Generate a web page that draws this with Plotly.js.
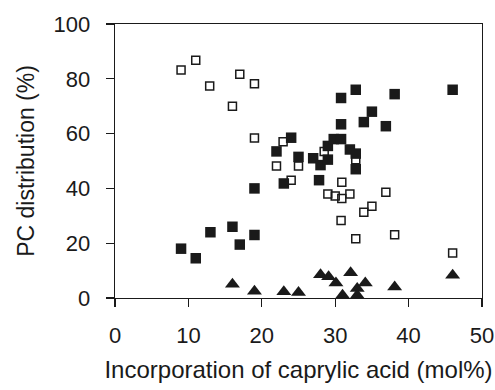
<!DOCTYPE html>
<html>
<head>
<meta charset="utf-8">
<script src="https://cdn.plot.ly/plotly-3.0.1.min.js"></script>
<style>html,body{margin:0;padding:0;background:#fff;}#chart{width:495px;height:390px;}</style>
</head>
<body>
<div id="chart"></div>
<script>
// Filled squares
const filledX = [9.0, 11.0, 13.0, 16.0, 17.0, 19.0, 19.0, 22.0, 23.0, 24.0, 25.0, 27.0, 28.0, 27.8, 29.0, 29.0, 29.8, 30.8, 30.8, 30.8, 32.0, 32.8, 32.8, 32.8, 33.9, 35.0, 36.9, 38.1, 46.0];
const filledY = [18.0, 14.5, 24.0, 26.0, 19.5, 23.0, 40.0, 53.5, 41.8, 58.5, 51.5, 51.0, 48.5, 43.0, 55.5, 50.5, 58.0, 58.0, 63.4, 73.0, 54.2, 76.0, 52.7, 47.0, 64.2, 68.0, 62.7, 74.4, 76.0];
// Open squares
const openX = [9.0, 11.0, 12.9, 16.0, 17.0, 19.0, 19.0, 22.9, 22.0, 24.0, 25.0, 28.5, 32.8, 30.9, 29.0, 30.0, 30.9, 32.0, 36.9, 35.0, 33.9, 30.8, 32.8, 38.1, 46.0];
const openY = [83.2, 86.8, 77.4, 70.0, 81.7, 78.2, 58.4, 57.0, 48.2, 43.0, 48.2, 53.5, 50.5, 42.2, 38.0, 37.2, 36.3, 38.0, 38.6, 33.5, 31.3, 28.3, 21.6, 23.1, 16.4];
// Triangles
const triX = [16.0, 19.0, 23.0, 25.0, 28.0, 29.1, 30.1, 31.0, 32.1, 33.0, 33.0, 34.1, 38.1, 46.0];
const triY = [5.0, 2.5, 2.3, 2.0, 8.5, 7.8, 5.5, 1.0, 9.2, 3.5, 1.0, 5.5, 4.0, 8.3];

const xTicks = [0, 10, 20, 30, 40, 50];
const yTicks = [0, 20, 40, 60, 80, 100];
const xTitle = 'Incorporation of caprylic acid (mol%)';
const yTitle = 'PC distribution (%)';

const traces = [
  {x: openX, y: openY, type: 'scatter', mode: 'markers',
   marker: {symbol: 'square-open', size: 8, color: '#1a1a1a', line: {width: 1.5, color: '#1a1a1a'}}},
  {x: filledX, y: filledY, type: 'scatter', mode: 'markers',
   marker: {symbol: 'square', size: 10.5, color: '#1a1a1a', line: {width: 0}}},
  {x: triX, y: triY, type: 'scatter', mode: 'markers',
   marker: {symbol: 'triangle-up', size: 13, color: '#1a1a1a', line: {width: 0}}}
];

const fam = '"Liberation Sans", Arial, sans-serif';
const ink = '#1a1a1a';
const layout = {
  width: 495, height: 390,
  margin: {l: 115, r: 13, t: 24, b: 92, pad: 0},
  paper_bgcolor: '#fff', plot_bgcolor: '#fff',
  showlegend: false,
  font: {family: fam, color: ink},
  xaxis: {
    range: [0, 50], tickvals: xTicks, ticktext: xTicks.map(String),
    showgrid: false, zeroline: false,
    showline: true, linecolor: ink, linewidth: 1.3, mirror: true,
    ticks: 'outside', ticklen: 8, tickwidth: 1.3, tickcolor: ink,
    tickfont: {size: 22, family: fam, color: ink},
    ticklabelstandoff: 9,
    title: {text: xTitle, font: {size: 24, family: fam, color: ink}, standoff: 14}
  },
  yaxis: {
    range: [0, 100], tickvals: yTicks, ticktext: yTicks.map(String),
    showgrid: false, zeroline: false,
    showline: true, linecolor: ink, linewidth: 1.3, mirror: true,
    ticks: 'outside', ticklen: 8, tickwidth: 1.3, tickcolor: ink,
    tickfont: {size: 22, family: fam, color: ink},
    ticklabelstandoff: 11,
    title: {text: yTitle, font: {size: 23, family: fam, color: ink}, standoff: 12}
  }
};

Plotly.newPlot('chart', traces, layout, {displayModeBar: false, staticPlot: true});
</script>
</body>
</html>
